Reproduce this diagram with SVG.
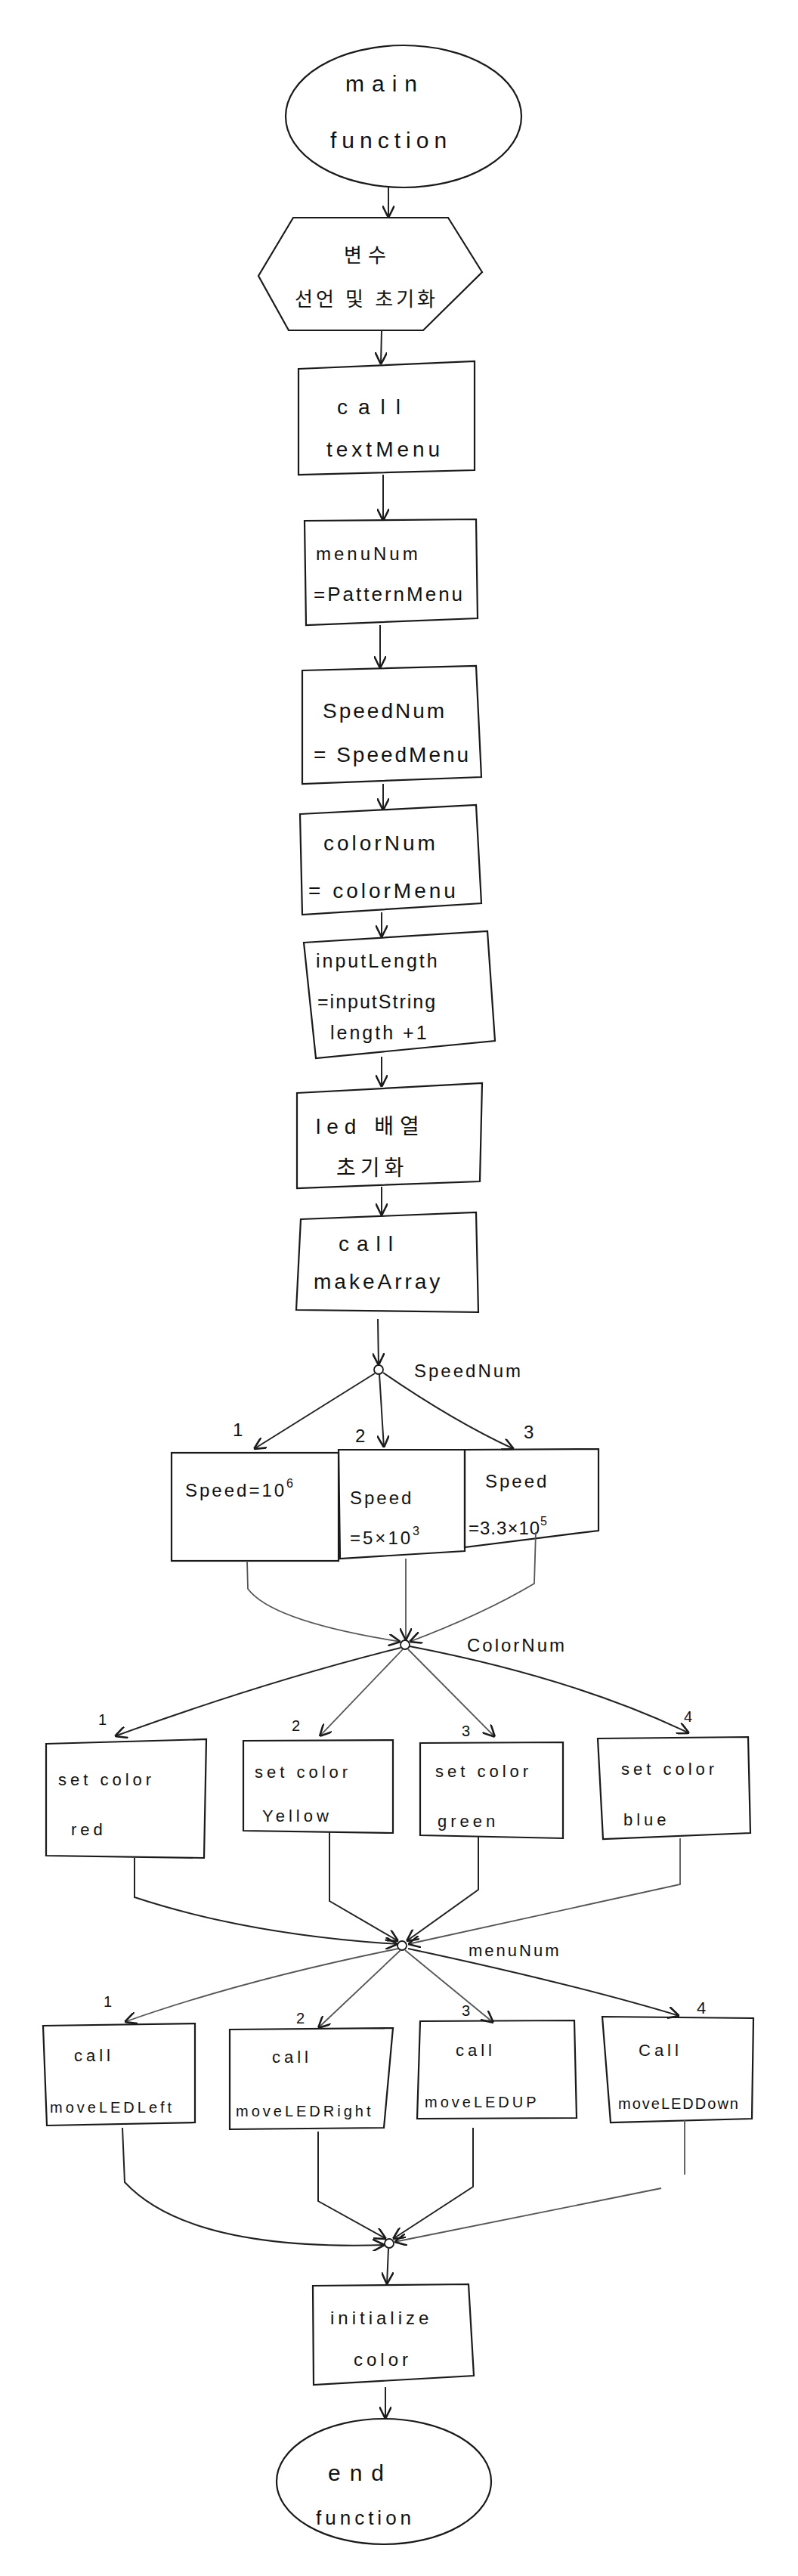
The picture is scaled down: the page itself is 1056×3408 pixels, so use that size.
<svg xmlns="http://www.w3.org/2000/svg" width="1056" height="3408" viewBox="0 0 1056 3408">
<defs>
<marker id="arr" viewBox="0 0 10 10" refX="10" refY="5" markerWidth="16" markerHeight="16" markerUnits="userSpaceOnUse" orient="auto">
<path d="M0,0 L10,5 L0,10" fill="none" stroke="#1a1a1a" stroke-width="1.6"/>
</marker>
</defs>
<style>
.shape{fill:none;stroke:#1a1a1a;stroke-width:2.2}
.conn{fill:none;stroke:#222;stroke-width:2}
.lt{fill:none;stroke:#555;stroke-width:1.8}
.jn{fill:#fff;stroke:#1a1a1a;stroke-width:1.8}
text{font-family:"Liberation Sans","Noto Sans CJK KR",sans-serif;fill:#111}
.t{font-size:28px;letter-spacing:6px}
.s{font-size:22px;letter-spacing:5px}
.m{font-size:20px;letter-spacing:4px}
.lb{font-size:24px}
</style>
<rect width="1056" height="3408" fill="#fff"/>

<g id="start">
<ellipse class="shape" cx="534" cy="154" rx="156" ry="94"/>
<text class="t" x="457" y="121" style="letter-spacing:10px;font-size:30px">main</text>
<text class="t" x="437" y="196" style="letter-spacing:7px;font-size:30px">function</text>
</g>

<g id="init">
<polygon class="shape" points="388,288 593,288 638,360 560,437 382,437 342,365"/>
<text class="t" x="455" y="347" style="font-size:26px;letter-spacing:8px">변수</text>
<text class="t" x="390" y="405" style="font-size:26px;letter-spacing:4px">선언 및 초기화</text>
</g>

<g id="textMenu">
<polygon class="shape" points="395,488 628,478 628,622 395,628"/>
<text class="t" x="446" y="548" style="letter-spacing:14px">call</text>
<text class="t" x="432" y="604" style="letter-spacing:5px">textMenu</text>
</g>

<g id="menuNum">
<polygon class="shape" points="403,689 630,687 632,818 405,827"/>
<text class="t" x="418" y="741" style="font-size:24px;letter-spacing:4px">menuNum</text>
<text class="t" x="415" y="795" style="font-size:26px;letter-spacing:3px">=PatternMenu</text>
</g>

<g id="speedNum">
<polygon class="shape" points="400,887 630,881 637,1028 400,1037"/>
<text class="t" x="427" y="950" style="letter-spacing:3px">SpeedNum</text>
<text class="t" x="415" y="1008" style="letter-spacing:3px">= SpeedMenu</text>
</g>

<g id="colorNum">
<polygon class="shape" points="397,1077 630,1065 637,1195 400,1210"/>
<text class="t" x="428" y="1125" style="letter-spacing:4px">colorNum</text>
<text class="t" x="408" y="1188" style="letter-spacing:4px">= colorMenu</text>
</g>

<g id="inputLength">
<polygon class="shape" points="402,1247 645,1232 655,1377 418,1400"/>
<text class="t" x="418" y="1280" style="font-size:25px;letter-spacing:3px">inputLength</text>
<text class="t" x="420" y="1334" style="font-size:25px;letter-spacing:2px">=inputString</text>
<text class="t" x="437" y="1375" style="font-size:25px;letter-spacing:3px">length +1</text>
</g>

<g id="ledInit">
<polygon class="shape" points="393,1446 638,1433 635,1563 393,1572"/>
<text class="t" x="418" y="1500" style="letter-spacing:8px">led 배열</text>
<text class="t" x="445" y="1555" style="letter-spacing:6px">초기화</text>
</g>

<g id="makeArray">
<polygon class="shape" points="398,1613 630,1604 633,1736 392,1733"/>
<text class="t" x="448" y="1655" style="letter-spacing:10px">call</text>
<text class="t" x="415" y="1705" style="letter-spacing:4px">makeArray</text>
</g>

<g id="speed1">
<rect class="shape" x="227" y="1922" width="221" height="143"/>
<text class="s" x="245" y="1980" style="font-size:24px;letter-spacing:3px">Speed=10<tspan dy="-12" font-size="16">6</tspan></text>
</g>
<g id="speed2">
<polygon class="shape" points="448,1918 615,1918 615,2052 450,2062"/>
<text class="s" x="463" y="1990" style="font-size:24px;letter-spacing:3px">Speed</text>
<text class="s" x="463" y="2043" style="font-size:24px;letter-spacing:3px">=5×10<tspan dy="-12" font-size="16">3</tspan></text>
</g>
<g id="speed3">
<polygon class="shape" points="615,1918 792,1917 792,2025 615,2047"/>
<text class="s" x="642" y="1968" style="font-size:24px;letter-spacing:3px">Speed</text>
<text class="s" x="620" y="2030" style="font-size:24px;letter-spacing:1px">=3.3×10<tspan dy="-12" font-size="16">5</tspan></text>
</g>

<g id="red">
<polygon class="shape" points="61,2307 273,2301 270,2458 61,2455"/>
<text class="s" x="77" y="2362">set color</text>
<text class="s" x="94" y="2428">red</text>
</g>
<g id="yellow">
<polygon class="shape" points="322,2303 520,2302 520,2425 322,2422"/>
<text class="s" x="337" y="2352">set color</text>
<text class="s" x="347" y="2410">Yellow</text>
</g>
<g id="green">
<polygon class="shape" points="556,2306 745,2305 745,2432 556,2428"/>
<text class="s" x="576" y="2351">set color</text>
<text class="s" x="579" y="2417">green</text>
</g>
<g id="blue">
<polygon class="shape" points="791,2300 990,2298 993,2425 798,2433"/>
<text class="s" x="822" y="2348">set color</text>
<text class="s" x="825" y="2415">blue</text>
</g>

<g id="left">
<polygon class="shape" points="57,2680 258,2677 258,2808 62,2812"/>
<text class="s" x="98" y="2727">call</text>
<text class="m" x="66" y="2795">moveLEDLeft</text>
</g>
<g id="right">
<polygon class="shape" points="304,2685 520,2683 508,2815 304,2817"/>
<text class="s" x="360" y="2729">call</text>
<text class="m" x="312" y="2800">moveLEDRight</text>
</g>
<g id="up">
<polygon class="shape" points="556,2674 760,2673 763,2802 552,2803"/>
<text class="s" x="603" y="2720">call</text>
<text class="m" x="562" y="2788">moveLEDUP</text>
</g>
<g id="down">
<polygon class="shape" points="797,2668 997,2670 995,2803 808,2808"/>
<text class="s" x="845" y="2720">Call</text>
<text class="m" x="818" y="2790" style="letter-spacing:2px">moveLEDDown</text>
</g>

<g id="initColor">
<polygon class="shape" points="414,3024 620,3022 627,3143 415,3155"/>
<text class="s" x="437" y="3075" style="font-size:24px;letter-spacing:5px">initialize</text>
<text class="s" x="468" y="3130" style="font-size:24px;letter-spacing:5px">color</text>
</g>

<g id="end">
<ellipse class="shape" cx="508" cy="3283" rx="142" ry="83"/>
<text class="t" x="434" y="3282" style="font-size:30px;letter-spacing:12px">end</text>
<text class="t" x="418" y="3340" style="font-size:26px;letter-spacing:5px">function</text>
</g>

<g id="junctions">
<circle class="jn" cx="501" cy="1812" r="6"/>
<circle class="jn" cx="536" cy="2176" r="6"/>
<circle class="jn" cx="532" cy="2574" r="6"/>
<circle class="jn" cx="515" cy="2968" r="6"/>
</g>

<g id="labels">
<text class="lb" x="548" y="1822" style="letter-spacing:3px">SpeedNum</text>
<text class="lb" x="308" y="1900">1</text>
<text class="lb" x="470" y="1908">2</text>
<text class="lb" x="693" y="1903">3</text>
<text class="lb" x="618" y="2185" style="letter-spacing:3px">ColorNum</text>
<text class="lb" x="130" y="2282" style="font-size:20px">1</text>
<text class="lb" x="386" y="2290" style="font-size:20px">2</text>
<text class="lb" x="611" y="2297" style="font-size:20px">3</text>
<text class="lb" x="905" y="2278" style="font-size:20px">4</text>
<text class="lb" x="620" y="2588" style="font-size:22px;letter-spacing:3px">menuNum</text>
<text class="lb" x="137" y="2655" style="font-size:20px">1</text>
<text class="lb" x="392" y="2677" style="font-size:20px">2</text>
<text class="lb" x="611" y="2667" style="font-size:20px">3</text>
<text class="lb" x="922" y="2664" style="font-size:22px">4</text>
</g>

<g id="connectors">
<path class="conn" d="M514,248 L514,288" marker-end="url(#arr)"/>
<path class="conn" d="M505,437 L504,482" marker-end="url(#arr)"/>
<path class="conn" d="M507,628 L507,689" marker-end="url(#arr)"/>
<path class="conn" d="M503,827 L503,884" marker-end="url(#arr)"/>
<path class="conn" d="M507,1037 L507,1072" marker-end="url(#arr)"/>
<path class="conn" d="M505,1207 L505,1240" marker-end="url(#arr)"/>
<path class="conn" d="M505,1398 L505,1438" marker-end="url(#arr)"/>
<path class="conn" d="M505,1570 L505,1608" marker-end="url(#arr)"/>
<path class="conn" d="M500,1745 L501,1806" marker-end="url(#arr)"/>

<path class="conn" d="M496,1817 L336,1917" marker-end="url(#arr)"/>
<path class="conn" d="M502,1818 L508,1915" marker-end="url(#arr)"/>
<path class="conn" d="M507,1816 Q600,1880 680,1917" marker-end="url(#arr)"/>

<path class="lt" d="M327,2065 L328,2102 Q360,2145 530,2172" marker-end="url(#arr)"/>
<path class="lt" d="M537,2062 L537,2170" marker-end="url(#arr)"/>
<path class="lt" d="M709,2027 L707,2095 Q640,2135 542,2172" marker-end="url(#arr)"/>

<path class="conn" d="M530,2180 Q350,2225 152,2297" marker-end="url(#arr)"/>
<path class="lt" d="M533,2182 L423,2297" marker-end="url(#arr)"/>
<path class="lt" d="M540,2182 L655,2298" marker-end="url(#arr)"/>
<path class="conn" d="M542,2178 Q760,2220 912,2293" marker-end="url(#arr)"/>

<path class="conn" d="M178,2458 L178,2510 Q330,2560 526,2572" marker-end="url(#arr)"/>
<path class="conn" d="M436,2423 L436,2515 L527,2568" marker-end="url(#arr)"/>
<path class="conn" d="M633,2430 L633,2500 L538,2568" marker-end="url(#arr)"/>
<path class="lt" d="M900,2432 L900,2493 L540,2572" marker-end="url(#arr)"/>

<path class="lt" d="M527,2578 Q320,2620 165,2675" marker-end="url(#arr)"/>
<path class="lt" d="M530,2580 L421,2683" marker-end="url(#arr)"/>
<path class="lt" d="M536,2580 L653,2676" marker-end="url(#arr)"/>
<path class="conn" d="M540,2578 Q760,2625 899,2667" marker-end="url(#arr)"/>

<path class="conn" d="M162,2815 L165,2887 Q250,2978 509,2970" marker-end="url(#arr)"/>
<path class="conn" d="M421,2820 L421,2912 L511,2962" marker-end="url(#arr)"/>
<path class="conn" d="M626,2815 L626,2893 L520,2962" marker-end="url(#arr)"/>
<path class="lt" d="M906,2805 L906,2877"/>
<path class="lt" d="M875,2895 L522,2966" marker-end="url(#arr)"/>

<path class="conn" d="M514,2975 L512,3022" marker-end="url(#arr)"/>
<path class="conn" d="M510,3158 L510,3200" marker-end="url(#arr)"/>
</g>
</svg>
